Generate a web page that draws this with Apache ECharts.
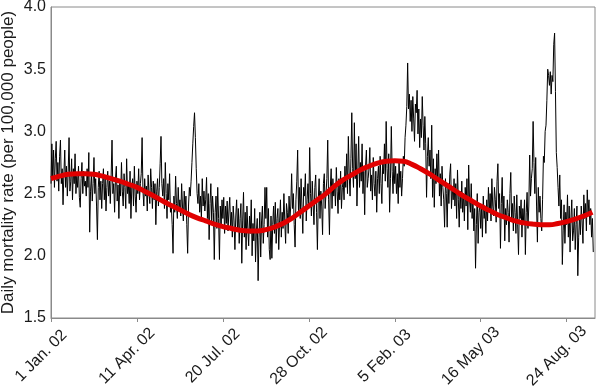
<!DOCTYPE html>
<html>
<head>
<meta charset="utf-8">
<script src="https://cdn.jsdelivr.net/npm/echarts@6/dist/echarts.min.js"></script>
<style>
html,body{margin:0;padding:0;background:#fff;}
#chart{width:600px;height:389px;}
</style>
</head>
<body>
<div id="chart"></div>
<script>
// Tick labels for x axis (every 100 days starting 1 Jan 2002)
var xTickLabels = ['1 Jan. 02', '11 Apr. 02', '20 Jul. 02', '28 Oct. 02', '5 Feb. 03', '16 May 03', '24 Aug. 03'];
var yTicks = [1.5, 2.0, 2.5, 3.0, 3.5, 4.0];

// Daily mortality rate (per 100,000), day 0 = 1 Jan 2002
var dailyRate = [
2.58,2.90,2.62,2.85,2.55,2.78,2.92,2.60,2.75,2.52,
2.80,2.93,2.58,2.70,2.41,2.66,2.85,2.55,2.72,2.48,
2.68,2.95,2.52,2.60,2.78,2.45,2.70,2.58,2.82,2.50,
2.64,2.55,2.72,2.47,2.39,2.62,2.75,2.50,2.68,2.56,
2.60,2.48,2.70,2.55,2.83,2.19,2.52,2.66,2.44,2.58,
2.79,2.50,2.62,2.40,2.13,2.55,2.68,2.45,2.60,2.38,
2.58,2.70,2.45,2.62,2.36,2.55,2.68,2.48,2.60,2.42,
2.65,2.93,2.50,2.58,2.35,2.62,2.72,2.44,2.57,2.30,
2.60,2.48,2.75,2.52,2.40,2.66,2.55,2.38,2.78,2.50,
2.58,2.42,2.68,2.30,2.55,2.62,2.40,2.72,2.48,2.35,
2.60,2.50,2.70,2.45,2.58,2.66,2.95,2.52,2.40,2.62,
2.48,2.56,2.36,2.65,2.50,2.42,2.70,2.55,2.38,2.60,
2.45,2.58,2.25,2.52,2.62,2.40,2.55,2.74,2.96,2.58,
2.48,2.62,2.38,2.75,2.50,2.30,2.58,2.45,2.66,2.35,
2.40,2.25,2.02,2.48,2.35,2.64,2.42,2.30,2.55,2.38,
2.45,2.32,2.58,2.40,2.28,2.52,2.36,2.48,2.25,2.02,
2.40,2.55,2.48,2.60,2.75,2.90,3.04,3.15,2.95,2.70,
2.50,2.42,2.58,2.35,2.48,2.30,2.62,2.40,2.52,2.36,
2.45,2.63,2.30,2.50,2.13,2.42,2.58,2.28,2.48,2.35,
1.97,2.35,2.48,2.22,2.55,2.30,1.97,2.40,2.25,2.45,
2.30,2.47,2.18,2.40,2.26,2.44,2.20,2.36,2.47,2.22,
2.35,2.15,2.40,2.28,2.05,2.32,2.45,2.20,2.38,2.10,
2.30,2.42,1.94,2.28,2.51,2.15,2.35,2.05,2.40,2.22,
2.08,2.32,2.18,2.45,2.00,2.26,2.12,2.38,1.95,2.20,
2.30,1.80,2.15,2.35,1.99,2.28,2.40,2.10,2.25,2.55,
2.30,2.55,2.15,2.38,2.05,1.97,2.32,1.98,2.25,2.40,
2.18,2.43,2.10,2.30,2.38,2.05,2.28,2.45,2.15,2.35,
2.22,2.50,2.28,2.10,2.42,2.35,2.18,2.48,2.30,2.40,
2.66,2.38,2.50,2.25,2.07,2.45,2.60,2.85,2.35,2.55,
2.30,2.62,2.40,2.18,2.55,2.48,2.66,2.28,2.45,2.58,
2.40,2.87,2.50,2.32,2.60,2.42,2.25,2.55,2.65,2.35,
2.05,2.45,2.62,2.30,2.52,2.40,2.17,2.58,2.66,2.38,
2.50,2.62,2.93,2.45,2.17,2.55,2.70,2.38,2.62,2.48,
2.58,2.40,2.71,2.52,2.34,2.62,2.45,2.68,2.38,2.55,
2.60,2.45,2.72,2.55,2.82,2.50,2.96,2.65,2.48,2.78,
3.15,2.70,2.55,3.07,2.62,2.90,2.40,2.68,2.96,2.55,
2.75,2.60,2.90,2.50,2.68,2.33,2.72,2.85,2.55,2.62,
2.70,2.87,2.52,2.65,2.45,2.79,2.58,2.48,2.68,2.35,
2.62,2.72,2.50,2.80,2.58,2.42,2.75,2.66,2.90,2.60,
3.08,2.70,2.55,2.82,2.35,2.62,3.04,2.68,2.50,2.75,
2.58,2.72,2.50,2.66,2.42,2.77,2.55,2.68,2.48,2.62,
2.80,2.72,2.95,3.05,3.20,3.55,3.18,3.30,3.08,3.25,
3.00,3.28,3.10,2.92,3.22,3.15,3.33,2.98,3.18,2.87,
3.10,2.95,3.28,3.05,2.85,3.12,2.90,2.47,2.80,2.95,
2.72,2.85,2.62,3.05,2.47,2.78,2.39,2.70,2.58,2.82,
2.60,2.85,2.48,2.66,2.40,2.72,2.55,2.45,2.23,2.62,
2.50,2.23,2.58,2.42,2.65,2.74,2.38,2.55,2.45,2.62,
2.40,2.58,2.30,2.69,2.45,2.23,2.52,2.38,2.60,2.35,
2.50,2.28,2.55,2.40,2.62,2.21,2.73,2.45,2.35,2.58,
2.30,2.45,2.20,2.38,1.90,2.25,2.50,2.10,2.35,2.42,
2.22,2.40,2.15,2.48,2.30,2.38,2.18,2.45,2.28,2.55,
2.35,2.50,2.28,2.62,2.40,2.32,2.55,2.45,2.27,2.60,
2.74,2.38,2.50,2.06,2.42,2.63,2.30,2.48,2.12,2.38,
2.25,2.45,2.35,2.11,2.50,2.67,2.30,2.42,2.20,2.48,
2.35,2.18,2.49,2.25,2.01,2.40,2.30,2.45,2.15,2.38,
2.28,2.45,2.01,2.35,2.51,2.22,2.40,2.81,2.48,2.62,
2.70,3.08,2.75,2.50,2.79,2.40,2.11,2.55,2.35,2.48,
2.30,2.20,2.45,2.80,2.75,3.00,3.05,3.25,3.50,3.45,
3.37,3.48,3.30,3.45,3.40,3.70,3.79,3.32,2.83,2.71,
2.55,2.40,2.65,2.30,2.45,1.93,2.20,2.41,2.10,2.35,
2.25,2.49,2.15,2.40,2.03,2.30,2.45,2.12,2.20,2.38,
2.05,2.25,2.40,1.84,2.15,2.32,2.17,2.40,2.28,2.10,
2.49,2.30,2.42,2.20,2.53,2.35,2.45,2.25,2.38,2.15,
2.30,2.03
];

// Smooth seasonal fit (red curve), sampled every 10 days
var trendDays = [0,10,20,30,40,50,60,70,80,90,100,110,120,130,140,150,160,170,180,190,200,210,220,230,240,250,260,270,280,290,300,310,320,330,340,350,360,370,380,390,400,410,420,430,440,450,460,470,480,490,500,510,520,530,540,550,560,570,580,590,600,610,620,630];
var trendValues = [2.62,2.64,2.655,2.66,2.66,2.655,2.64,2.62,2.60,2.575,2.55,2.515,2.48,2.44,2.405,2.37,2.335,2.305,2.28,2.255,2.235,2.22,2.205,2.20,2.20,2.21,2.23,2.26,2.30,2.35,2.40,2.45,2.50,2.56,2.61,2.65,2.69,2.72,2.745,2.76,2.765,2.76,2.735,2.70,2.66,2.615,2.57,2.525,2.48,2.44,2.40,2.365,2.33,2.305,2.28,2.265,2.255,2.25,2.25,2.26,2.275,2.295,2.32,2.35];

var dailyData = dailyRate.map(function (v, i) { return [i, v]; });
var trendData = trendDays.map(function (d, i) { return [d, trendValues[i]]; });

var chart = echarts.init(document.getElementById('chart'), null, {renderer: 'canvas'});
var FONT = '"Liberation Sans", Arial, Helvetica, sans-serif';
chart.setOption({
  animation: false,
  backgroundColor: '#fff',
  grid: {left: 51, right: 5, top: 7, bottom: 71, outerBoundsMode: 'none', containLabel: false,
         show: true, borderColor: '#8a8a8a', borderWidth: 1, backgroundColor: 'transparent'},
  xAxis: {
    type: 'value', min: 0, max: 633, interval: 100,
    axisLine: {show: true, lineStyle: {color: '#8a8a8a', width: 1}},
    axisTick: {show: true, length: 4, lineStyle: {color: '#8a8a8a'}},
    splitLine: {show: false},
    axisLabel: {
      rotate: 45, margin: 28, align: 'center', verticalAlign: 'middle',
      fontFamily: FONT, fontSize: 16, color: '#1a1a1a',
      showMaxLabel: false,
      formatter: function (v) {
        var t = (v % 100 === 0) ? (xTickLabels[v / 100] || '') : '';
        return t ? '{a|' + t + '}' : '';
      },
      rich: {
        a: {fontFamily: FONT, fontSize: 16, color: '#1a1a1a', padding: [0, 28, 0, 0]}
      }
    }
  },
  yAxis: {
    type: 'value', min: 1.5, max: 4.0, interval: 0.5,
    name: 'Daily mortality rate (per 100,000 people)',
    nameLocation: 'middle', nameGap: 34, nameRotate: 90, nameMoveOverlap: false,
    nameTextStyle: {fontFamily: FONT, fontSize: 17, color: '#1a1a1a'},
    axisLine: {show: true, lineStyle: {color: '#8a8a8a', width: 1}},
    axisTick: {show: false},
    splitLine: {show: false},
    axisLabel: {
      margin: 5, fontFamily: FONT, fontSize: 16, color: '#1a1a1a',
      formatter: function (v) { return v.toFixed(1); }
    }
  },
  series: [
    {type: 'line', data: dailyData, showSymbol: false, symbol: 'none',
     lineStyle: {color: '#000', width: 1}, z: 2},
    {type: 'line', data: trendData, showSymbol: false, symbol: 'none', smooth: true,
     lineStyle: {color: '#e00000', width: 5}, z: 3}
  ]
});
</script>
</body>
</html>
